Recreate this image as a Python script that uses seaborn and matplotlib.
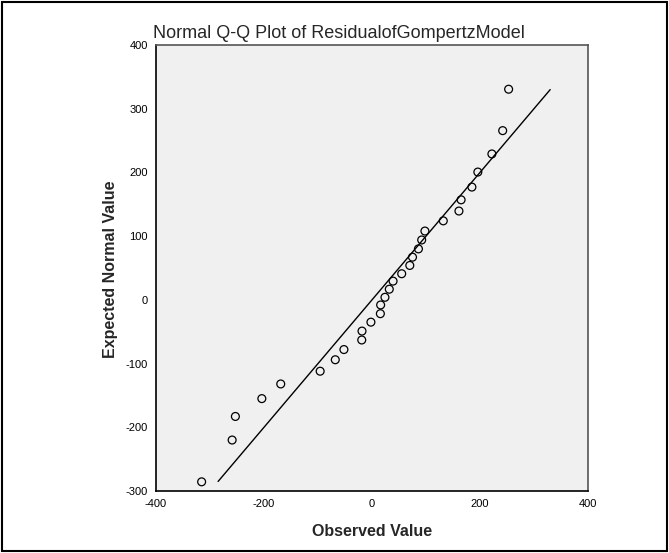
import matplotlib
matplotlib.use('Agg')
import matplotlib.pyplot as plt
import seaborn as sns
import pandas as pd
from matplotlib.patches import Rectangle

# observed residuals and expected normal values
observed = [253, 242, 222, 196, 185, 165, 161, 132, 98, 92, 86, 75, 70, 55, 39, 32, 24,
            16, 15.5, -2, -18.5, -19, -52, -68, -96, -169, -204, -253, -259, -315.5]
expected = [330.6, 265.6, 229, 200.6, 177, 157, 139.4, 124, 108, 94, 80, 67, 54, 41, 29.4,
            16.7, 4, -8, -21.7, -35, -49, -63, -78, -94, -112, -132, -155, -183, -220, -285.6]
line_x = [-285, 330]
line_y = [-285, 330]
xticks = [-400, -200, 0, 200, 400]
yticks = [-300, -200, -100, 0, 100, 200, 300, 400]

pts = pd.DataFrame({'obs': observed, 'exp': expected})
ref = pd.DataFrame({'x': line_x, 'y': line_y})

sns.set_style('white')
plt.rcParams['font.family'] = ['Liberation Sans', 'DejaVu Sans']
plt.rcParams['axes.unicode_minus'] = False

fig = plt.figure(figsize=(6.69, 5.53), dpi=100)
ax = fig.add_axes([156/669, 1-491/553, (588-156)/669, (491-45)/553])
ax.set_facecolor('#f0f0f0')

sns.lineplot(data=ref, x='x', y='y', ax=ax, color='black', linewidth=1.0)
sns.scatterplot(data=pts, x='obs', y='exp', ax=ax, s=32, facecolor='none',
                edgecolor='black', linewidth=0.9, zorder=3)

ax.set_xlim(-400, 400)
ax.set_ylim(-300, 400)
ax.set_xticks(xticks)
ax.set_yticks(yticks)
ax.tick_params(axis='both', direction='out', length=5, width=1, labelsize=8, pad=1,
               colors='black')
for s in ['left', 'bottom']:
    ax.spines[s].set_color('black')
    ax.spines[s].set_linewidth(1.2)
for s in ['top', 'right']:
    ax.spines[s].set_color('#555555')
    ax.spines[s].set_linewidth(1.2)

ax.set_xlabel('')
ax.set_ylabel('')
fig.text(339/669, 1-38/553, 'Normal Q-Q Plot of ResidualofGompertzModel',
         ha='center', va='baseline', fontsize=13)
fig.text(372/669, 1-531/553, 'Observed Value', ha='center', va='center',
         fontsize=11.5, fontweight='bold')
fig.text(110/669, 1-269/553, 'Expected Normal Value', ha='center', va='center',
         fontsize=11.5, fontweight='bold', rotation=90)

fig.patches.append(Rectangle((0.003, 0.004), 0.994, 0.992, transform=fig.transFigure,
                             fill=False, edgecolor='black', linewidth=1.5))

fig.savefig('out.png', dpi=100)
